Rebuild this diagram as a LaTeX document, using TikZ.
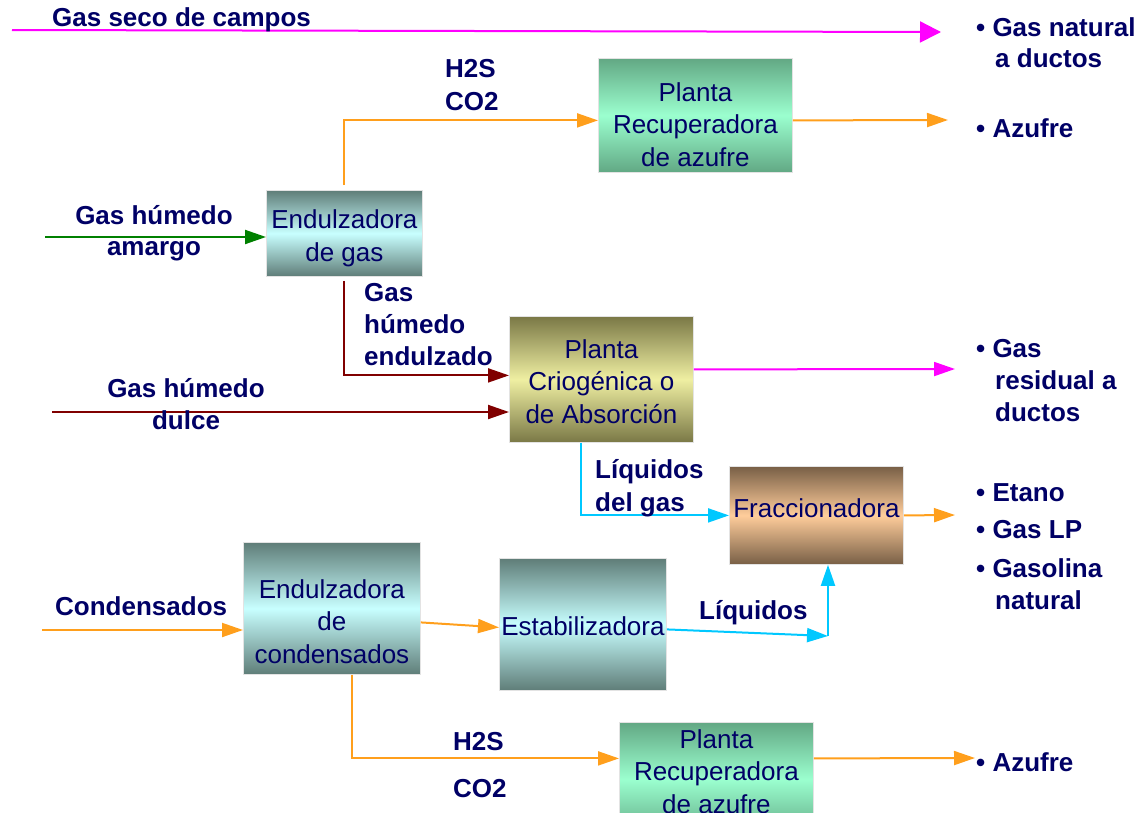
\documentclass[tikz,border=0pt]{standalone}
\usepackage{fontspec}
\setmainfont{Liberation Sans}
\usetikzlibrary{arrows.meta}
\definecolor{navy}{HTML}{000066}
\definecolor{lorange}{HTML}{FF9F1C}
\definecolor{lmag}{HTML}{FF00FF}
\definecolor{lgreen}{HTML}{008000}
\definecolor{lred}{HTML}{800000}
\definecolor{lcyan}{HTML}{00C8FF}
\definecolor{grtop}{HTML}{62A884}
\definecolor{grmid}{HTML}{9BFFCF}
\definecolor{tltop}{HTML}{5F7D78}
\definecolor{tlmid}{HTML}{C8FFFF}
\definecolor{oltop}{HTML}{7A7846}
\definecolor{olmid}{HTML}{EFEFA2}
\definecolor{brtop}{HTML}{785F46}
\definecolor{brmid}{HTML}{FFCD9B}
\tikzset{
  box/.style={rectangle, anchor=north west, inner sep=0pt,
    draw=gray!22, line width=0.8pt},
  boxtxt/.style={inner sep=0pt, align=center, text=navy,
    font=\fontsize{26}{32.5}\selectfont},
  greenbox/.style={box, top color=grtop, bottom color=grtop, middle color=grmid},
  tealbox/.style={box, top color=tltop, bottom color=tltop, middle color=tlmid},
  olivebox/.style={box, top color=oltop, bottom color=oltop, middle color=olmid},
  brownbox/.style={box, top color=brtop, bottom color=brtop, middle color=brmid},
  lab/.style={inner sep=0pt, anchor=base west, text=navy,
    font=\bfseries\fontsize{26}{31}\selectfont},
  labc/.style={lab, anchor=base},
  flow/.style={line width=2pt, -{Triangle[length=21pt,width=14pt]}},
}
\begin{document}
\begin{tikzpicture}[x=1pt,y=-1pt]
\useasboundingbox (0,0) rectangle (1143,812);

% boxes
\node[greenbox, minimum width=194pt, minimum height=114pt,
  label={[boxtxt,yshift=-9pt]center:{Planta\\Recuperadora\\de azufre}}] (PRA1) at (598,58) {};
\node[tealbox, minimum width=156pt, minimum height=86pt,
  label={[boxtxt,yshift=-5pt]center:{Endulzadora\\de gas}}] (EG) at (266,190) {};
\node[olivebox, minimum width=184pt, minimum height=126pt,
  label={[boxtxt,yshift=-2pt]center:{Planta\\Criogénica o\\de Absorción}}] (PC) at (509,316) {};
\node[brownbox, minimum width=174pt, minimum height=98pt,
  label={[boxtxt,yshift=7pt]center:{Fraccionadora}}] (FR) at (729,466) {};
\node[tealbox, minimum width=177pt, minimum height=132pt,
  label={[boxtxt,yshift=-13pt]center:{Endulzadora\\de\\condensados}}] (EC) at (243,542) {};
\node[tealbox, minimum width=167pt, minimum height=132pt,
  label={[boxtxt,yshift=-2pt]center:{Estabilizadora}}] (ES) at (499,558) {};
\node[greenbox, minimum width=194pt, minimum height=114pt,
  label={[boxtxt,yshift=8pt]center:{Planta\\Recuperadora\\de azufre}}] (PRA2) at (619,722) {};

% free ends
\coordinate (s0) at (12,30);
\coordinate (e0) at (941,32);
\coordinate (e1) at (948,120);
\coordinate (s2) at (45,237);
\coordinate (s3) at (52,412);
\coordinate (e3) at (955,369);
\coordinate (e4) at (955,515);
\coordinate (s5) at (42,630);
\coordinate (c1) at (828,636);
\coordinate (e6) at (975,758);

% connectors
\draw[flow, lmag, -{Triangle[length=21pt,width=21pt]}] (s0) -- (e0);
\draw[flow, lorange] ([yshift=5pt]EG.north) |- ([yshift=-5pt]PRA1.west);
\draw[flow, lorange] ([yshift=-5pt]PRA1.east) -- (e1);
\draw[flow, lgreen] (s2) -- (s2 -| EG.west);
\draw[flow, lred] ([yshift=-4pt]EG.south) |- ([yshift=4pt]PC.west);
\draw[flow, lred] (s3) -- (s3 -| PC.west);
\draw[flow, lmag] ([yshift=10pt]PC.east) -- (e3);
\draw[flow, lcyan] ([xshift=-20pt]PC.south) |- (FR.west);
\draw[flow, lorange] (FR.east) -- (e4);
\draw[flow, lorange] (s5) -- (s5 -| EC.west);
\draw[flow, lorange] ([yshift=-14pt]EC.east) -- ([yshift=-3pt]ES.west);
\draw[flow, lcyan] ([yshift=-5pt]ES.east) -- (c1);
\draw[flow, lcyan] (c1) -- (c1 |- FR.south);
\draw[flow, lorange] ([xshift=20pt]EC.south) |- ([yshift=21pt]PRA2.west);
\draw[flow, lorange] ([yshift=21pt]PRA2.east) -- (e6);

% labels
\node[lab] (t1) at (52,26) {Gas seco de campos};
\node[lab] (t2) at (445,77) {H2S};
\node[lab] (t3) at (445,110) {CO2};
\node[lab] (t4) at (976,36) {• Gas natural};
\node[lab] (t5) at (995,67) {a ductos};
\node[lab] (t6) at (976,137) {• Azufre};
\node[labc] (t7) at (154,224) {Gas húmedo};
\node[labc] (t8) at (154,255) {amargo};
\node[lab] (t9) at (364,301) {Gas};
\node[lab] (t10) at (364,333) {húmedo};
\node[lab] (t11) at (364,365) {endulzado};
\node[labc] (t12) at (186,397) {Gas húmedo};
\node[labc] (t13) at (186,429) {dulce};
\node[lab] (t14) at (976,357) {• Gas};
\node[lab] (t15) at (995,389) {residual a};
\node[lab] (t16) at (995,421) {ductos};
\node[lab] (t17) at (595,478) {Líquidos};
\node[lab] (t18) at (595,511) {del gas};
\node[lab] (t19) at (976,501) {• Etano};
\node[lab] (t20) at (976,538) {• Gas LP};
\node[lab] (t21) at (976,577) {• Gasolina};
\node[lab] (t22) at (995,609) {natural};
\node[lab] (t23) at (55,615) {Condensados};
\node[lab] (t24) at (699,619) {Líquidos};
\node[lab] (t25) at (453,750) {H2S};
\node[lab] (t26) at (453,797) {CO2};
\node[lab] (t27) at (976,771) {• Azufre};
\end{tikzpicture}
\end{document}
